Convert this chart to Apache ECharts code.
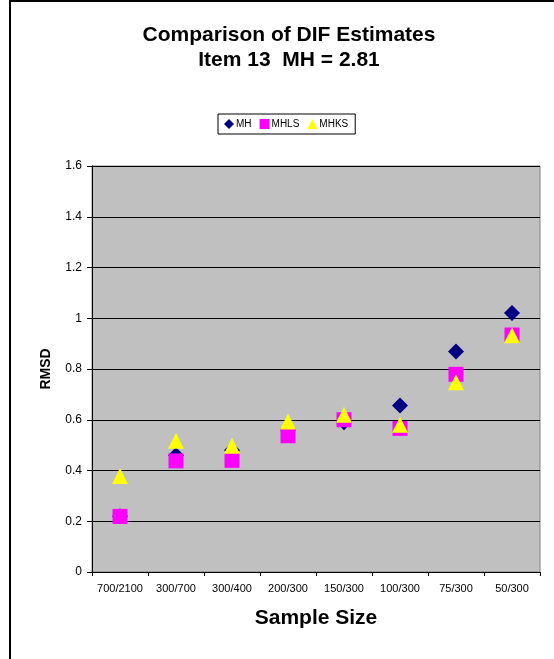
<!DOCTYPE html>
<html>
<head>
<meta charset="utf-8">
<script src="https://cdn.jsdelivr.net/npm/echarts@6/dist/echarts.min.js"></script>
<style>
  html, body { margin: 0; padding: 0; background: #fff; }
  #chart { width: 554px; height: 659px; }
</style>
</head>
<body>
<div id="chart"></div>
<script>
// Sample-size conditions (reference/focal)
const categories = ['700/2100', '300/700', '300/400', '200/300', '150/300', '100/300', '75/300', '50/300'];

// RMSD of each DIF estimator
const mhValues   = [0.22, 0.46, 0.48, 0.56, 0.59, 0.656, 0.869, 1.021];
const mhlsValues = [0.219, 0.438, 0.44, 0.537, 0.60, 0.566, 0.779, 0.934];
const mhksValues = [0.378, 0.517, 0.498, 0.593, 0.62, 0.58, 0.748, 0.933];

const yTicks = { min: 0, max: 1.6, interval: 0.2 };

const FONT = 'Liberation Sans, Arial, sans-serif';

const chart = echarts.init(document.getElementById('chart'), null, { renderer: 'canvas' });

chart.setOption({
  backgroundColor: '#ffffff',
  animation: false,
  title: {
    text: 'Comparison of DIF Estimates\nItem 13  MH = 2.81',
    left: 284,
    top: 18,
    textAlign: 'center',
    textStyle: {
      fontFamily: FONT,
      fontSize: 21,
      fontWeight: 'bold',
      color: '#000',
      lineHeight: 25
    }
  },
  legend: {
    top: 114,
    left: 218,
    padding: [5, 7, 5, 6],
    borderColor: '#000',
    borderWidth: 1,
    itemGap: 8,
    itemWidth: 10,
    itemHeight: 10,
    textStyle: { fontFamily: FONT, fontSize: 10, color: '#000', padding: [0, 0, 0, -3] },
    data: [
      { name: 'MH', icon: 'diamond' },
      { name: 'MHLS', icon: 'rect' },
      { name: 'MHKS', icon: 'triangle' }
    ]
  },
  grid: {
    left: 92,
    top: 166,
    right: 14,
    bottom: 87,
    show: true,
    backgroundColor: '#C0C0C0',
    borderColor: '#808080',
    borderWidth: 1
  },
  xAxis: {
    type: 'category',
    data: categories,
    boundaryGap: true,
    name: 'Sample Size',
    nameLocation: 'middle',
    nameGap: 36,
    nameTextStyle: { fontFamily: FONT, fontSize: 21, fontWeight: 'bold', color: '#000' },
    axisLine: { lineStyle: { color: '#000', width: 1 } },
    axisTick: { show: true, inside: false, length: 4, interval: 0, lineStyle: { color: '#000' } },
    axisLabel: { interval: 0, margin: 11, fontFamily: FONT, fontSize: 11, color: '#000' },
    splitLine: { show: false }
  },
  yAxis: {
    type: 'value',
    min: yTicks.min,
    max: yTicks.max,
    interval: yTicks.interval,
    name: 'RMSD',
    nameLocation: 'middle',
    nameGap: 39,
    nameRotate: 90,
    nameTextStyle: { fontFamily: FONT, fontSize: 14, fontWeight: 'bold', color: '#000' },
    axisLine: { show: true, lineStyle: { color: '#000', width: 1 } },
    axisTick: { show: true, inside: false, length: 5, lineStyle: { color: '#000' } },
    axisLabel: {
      margin: 10,
      fontFamily: FONT,
      fontSize: 12,
      color: '#000',
      formatter: v => String(Math.round(v * 10) / 10)
    },
    splitLine: { show: true, lineStyle: { color: '#000', width: 1 } }
  },
  series: [
    {
      name: 'MH',
      type: 'scatter',
      symbol: 'diamond',
      symbolSize: 16,
      itemStyle: { color: '#000080', opacity: 1 },
      data: mhValues,
      z: 2
    },
    {
      name: 'MHLS',
      type: 'scatter',
      symbol: 'rect',
      symbolSize: 15,
      itemStyle: { color: '#FF00FF', opacity: 1 },
      data: mhlsValues,
      z: 3
    },
    {
      name: 'MHKS',
      type: 'scatter',
      symbol: 'triangle',
      symbolSize: 16,
      itemStyle: { color: '#FFFF00', opacity: 1 },
      data: mhksValues,
      z: 4
    }
  ],
  graphic: [
    {
      type: 'rect',
      shape: { x: 10, y: 1, width: 700, height: 800 },
      style: { fill: 'none', stroke: '#000', lineWidth: 2 },
      silent: true
    }
  ]
});
</script>
</body>
</html>
